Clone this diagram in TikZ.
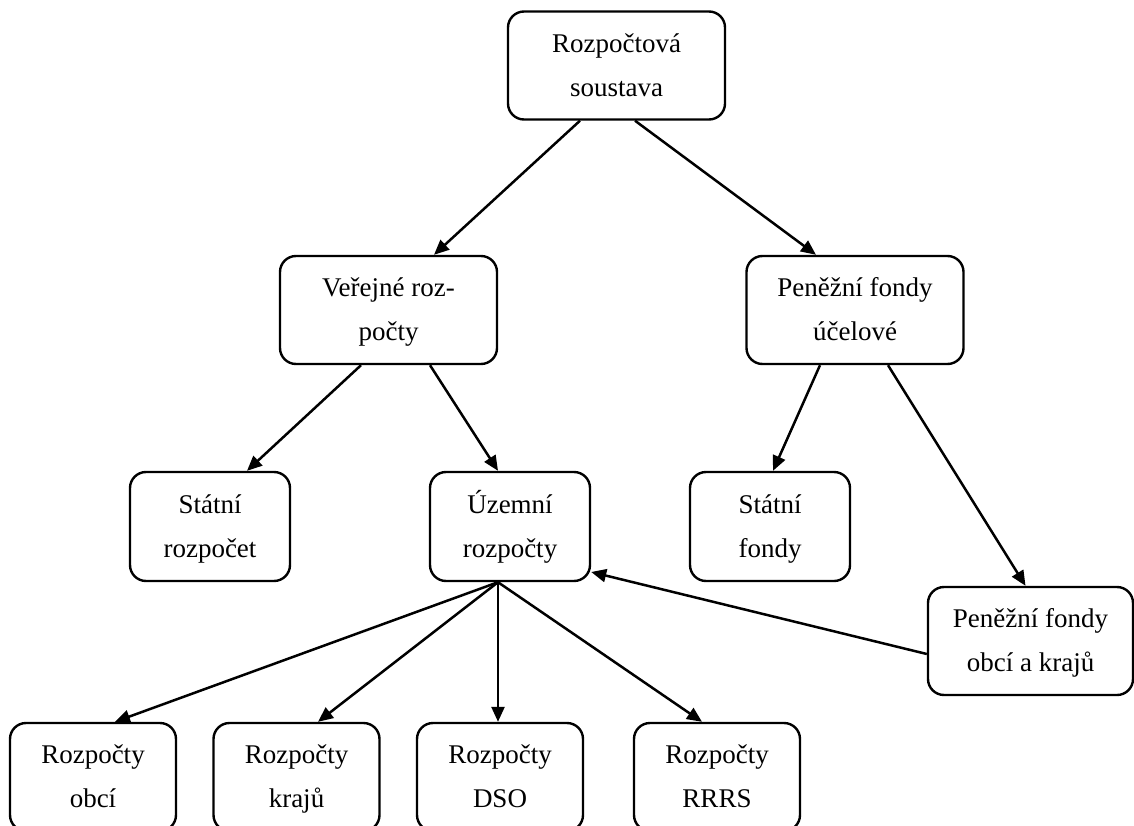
\documentclass[tikz,border=0pt]{standalone}
\usepackage{fontspec}
\setmainfont{Liberation Serif}
\usetikzlibrary{arrows.meta}
\begin{document}
\begin{tikzpicture}[x=1pt,y=-1pt,
  box/.style={draw, line width=2.4pt, rounded corners=16pt, align=center,
    font=\fontsize{27}{44}\selectfont, inner sep=0pt},
  big/.style={box, minimum width=217pt, minimum height=108pt},
  small/.style={box, minimum width=160pt, minimum height=109pt},
  low/.style={box, minimum width=166pt, minimum height=108pt},
  conn/.style={line width=2.5pt, -{Triangle[length=15pt,width=13pt]}}]
\useasboundingbox (0,0) rectangle (1134,826);
\node[big] (top) at (616.5,65.5) {Rozpočtová\strut\\soustava\strut};
\node[big] (ver) at (388.5,310) {Veřejné roz-\strut\\počty\strut};
\node[big] (pfu) at (855,310) {Peněžní fondy\strut\\účelové\strut};
\node[small] (sr) at (210,526.5) {Státní\strut\\rozpočet\strut};
\node[small] (uz) at (510,526.5) {Územní\strut\\rozpočty\strut};
\node[small] (sf) at (770,526.5) {Státní\strut\\fondy\strut};
\node[box, minimum width=205pt, minimum height=108pt] (pfo) at (1030.5,641) {Peněžní fondy\strut\\obcí a krajů\strut};
\node[low] (obci) at (93,777) {Rozpočty\strut\\obcí\strut};
\node[low] (kraju) at (296.5,777) {Rozpočty\strut\\krajů\strut};
\node[low] (dso) at (500,777) {Rozpočty\strut\\DSO\strut};
\node[low] (rrrs) at (717,777) {Rozpočty\strut\\RRRS\strut};
\draw[conn] ([xshift=-36.5pt]top.south) -- ([xshift=45.5pt]ver.north);
\draw[conn] ([xshift=18.5pt]top.south) -- ([xshift=-39pt]pfu.north);
\draw[conn] ([xshift=-27.5pt]ver.south) -- ([xshift=37pt]sr.north);
\draw[conn] ([xshift=41.5pt]ver.south) -- ([xshift=-12pt]uz.north);
\draw[conn] ([xshift=-35pt]pfu.south) -- ([xshift=3pt]sf.north);
\draw[conn] ([xshift=33pt]pfu.south) -- ([xshift=-5pt]pfo.north);
\draw[conn] ([xshift=-12pt]uz.south) -- ([xshift=22pt]obci.north);
\draw[conn] ([xshift=-12pt]uz.south) -- ([xshift=21.5pt]kraju.north);
\draw[conn] ([xshift=-12pt]uz.south) -- ([xshift=-2pt]dso.north);
\draw[conn] ([xshift=-12pt]uz.south) -- ([xshift=-15pt]rrrs.north);
\draw[conn] ([yshift=-13pt]pfo.west) -- ([yshift=-45.5pt]uz.east);
\end{tikzpicture}
\end{document}
